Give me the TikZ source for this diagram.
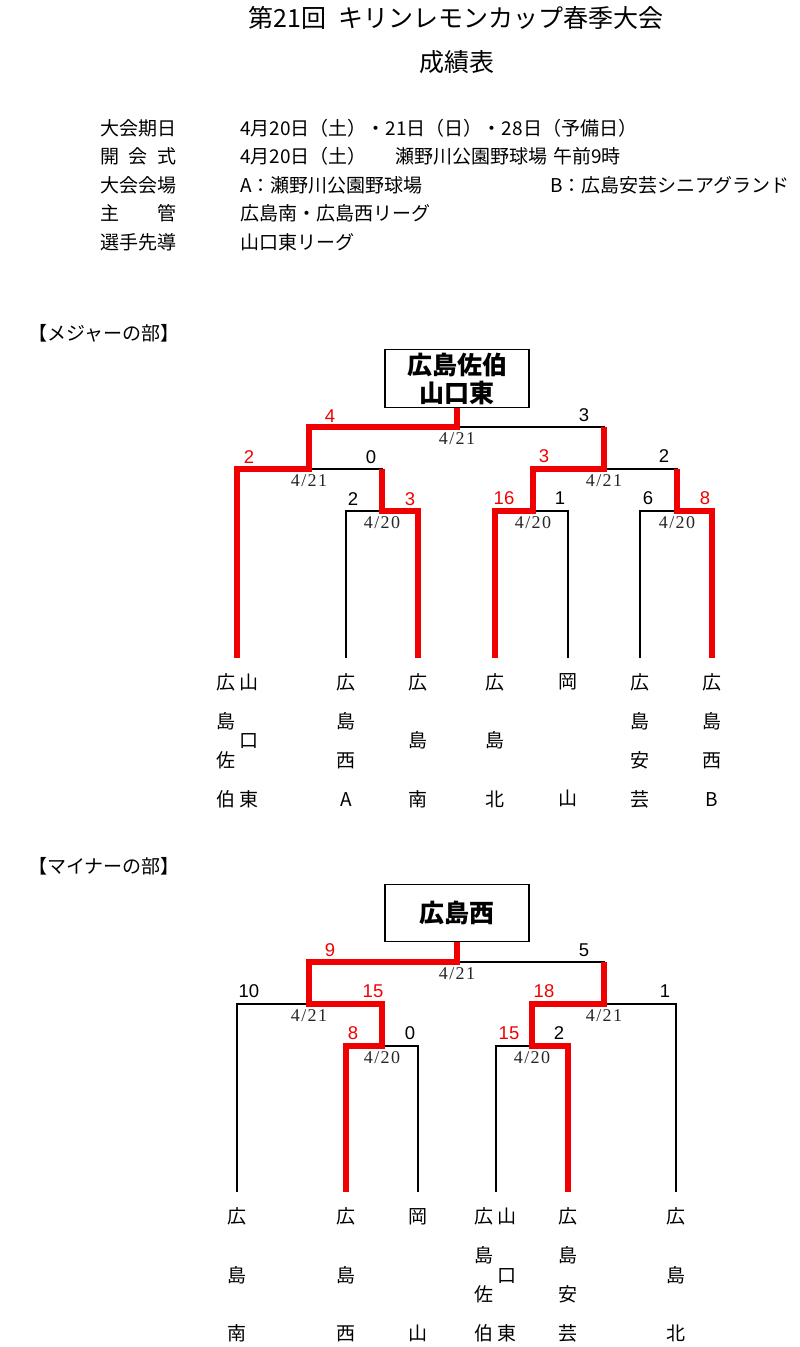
\documentclass[tikz,border=0pt]{standalone}
\usepackage{fontspec}
\setmainfont{Noto Sans CJK JP}
\newfontfamily\numfont{Liberation Sans}
\newfontfamily\datefont[LetterSpace=8]{Liberation Serif}
\usepackage{xcolor}
\usetikzlibrary{positioning}
\definecolor{winred}{RGB}{240,0,0}
\tikzset{
  champbox/.style={rectangle, draw, line width=1.4pt, minimum width=144pt,
                   minimum height=57pt, align=center,
                   font=\bfseries\fontsize{25}{28}\selectfont},
  bout/.style={draw, line width=1.4pt},
  winline/.style={draw=winred, line width=6pt},
  score/.style={font=\numfont\fontsize{18.5}{18.5}\selectfont, inner sep=0pt},
  winscore/.style={score, text=winred},
  datelbl/.style={font=\datefont\fontsize{18}{18}\selectfont, inner sep=0pt,
                  text=black!85},
  team/.style={font=\fontsize{19}{39}\selectfont, align=center, inner sep=0pt},
  team3/.style={font=\fontsize{19}{58.5}\selectfont, align=center, inner sep=0pt},
  team2/.style={font=\fontsize{19}{117}\selectfont, align=center, inner sep=0pt},
  info/.style={anchor=west, inner sep=0pt, font=\fontsize{19}{19}\selectfont},
}
\begin{document}
\begin{tikzpicture}[x=1pt, y=-1pt]
  \useasboundingbox (0,0) rectangle (800,1347);

  \node[font=\fontsize{25}{25}\selectfont] (title) at (456,18) {第21回\hspace{0.5em}キリンレモンカップ春季大会};
  \node[font=\fontsize{25}{25}\selectfont] (subtitle) at (457,62) {成績表};

  \node[info] (k1) at (100,128) {大会期日};
  \node[info] (k2) at (100,156) {開\hspace{0.5em}会\hspace{0.5em}式};
  \node[info] (k3) at (100,185) {大会会場};
  \node[info] (k4) at (100,213) {主\hspace{2em}管};
  \node[info] (k5) at (100,242) {選手先導};
  \node[info] (v1) at (240,128) {4月20日（土）・21日（日）・28日（予備日）};
  \node[info] (v2) at (240,156) {4月20日（土）\hspace{1.5em}瀬野川公園野球場\hspace{0.3em}午前9時};
  \node[info] (v3) at (240,185) {A：瀬野川公園野球場};
  \node[info] (v3b) at (550,185) {B：広島安芸シニアグランド};
  \node[info] (v4) at (240,213) {広島南・広島西リーグ};
  \node[info] (v5) at (240,242) {山口東リーグ};

  % major
  \node[info] (hmaj) at (28,333) {【メジャーの部】};
  \node[champbox] (mbox) at (457,378.5) {広島佐伯\\山口東};

  \coordinate (mj0) at (457,427);
  \coordinate (mj1) at (309,469);
  \coordinate (mj2) at (604,469);
  \coordinate (mj3) at (382,511);
  \coordinate (mj4) at (533,511);
  \coordinate (mj5) at (677,511);
  \coordinate (ml1) at (237,658);
  \coordinate (ml2) at (346,658);
  \coordinate (ml3) at (418,658);
  \coordinate (ml4) at (495,658);
  \coordinate (ml5) at (568,658);
  \coordinate (ml6) at (640,658);
  \coordinate (ml7) at (712,658);

  \draw[bout] (mj1) |- (mj0) -| (mj2);
  \draw[bout] (ml1) |- (mj1) -| (mj3);
  \draw[bout] (mj4) |- (mj2) -| (mj5);
  \draw[bout] (ml2) |- (mj3) -| (ml3);
  \draw[bout] (ml4) |- (mj4) -| (ml5);
  \draw[bout] (ml6) |- (mj5) -| (ml7);

  \draw[winline] (mbox.south) -- (mj0) -| (mj1) -| (ml1);
  \draw[winline] (mj3 |- mj1) -- (mj3) -| (ml3);
  \draw[winline] (ml4) |- (mj4) |- (mj2) -- (mj2 |- mj0);
  \draw[winline] (mj5 |- mj2) -- (mj5) -| (ml7);

  \node[winscore] (ms1) at (330,416) {4};
  \node[score] (ms2) at (584,415) {3};
  \node[winscore] (ms3) at (249,457) {2};
  \node[score] (ms4) at (371,457) {0};
  \node[winscore] (ms5) at (544,456) {3};
  \node[score] (ms6) at (664,456) {2};
  \node[score] (ms7) at (353,499) {2};
  \node[winscore] (ms8) at (410,499) {3};
  \node[winscore] (ms9) at (504,498) {16};
  \node[score] (ms10) at (560,498) {1};
  \node[score] (ms11) at (648,498) {6};
  \node[winscore] (ms12) at (705,498) {8};

  \node[datelbl, below=5pt of mj0] (md0) {4/21};
  \node[datelbl, below=5pt of mj1] (md1) {4/21};
  \node[datelbl, below=5pt of mj2] (md2) {4/21};
  \node[datelbl, below=5pt of mj3] (md3) {4/20};
  \node[datelbl, below=5pt of mj4] (md4) {4/20};
  \node[datelbl, below=5pt of mj5] (md5) {4/20};

  \node[team] (mt1a) at (226,740.5) {広\\島\\佐\\伯};
  \node[team3] (mt1b) at (249,740.5) {山\\口\\東};
  \node[team] (mt2) at (346,740.5) {広\\島\\西\\A};
  \node[team3] (mt3) at (418,740.5) {広\\島\\南};
  \node[team3] (mt4) at (495,740.5) {広\\島\\北};
  \node[team2] (mt5) at (568,740.5) {岡\\山};
  \node[team] (mt6) at (640,740.5) {広\\島\\安\\芸};
  \node[team] (mt7) at (712,740.5) {広\\島\\西\\B};

  % minor
  \node[info] (hmin) at (28,866) {【マイナーの部】};
  \node[champbox] (nbox) at (457,913) {広島西};

  \coordinate (nj0) at (457,962);
  \coordinate (nj1) at (309,1004);
  \coordinate (nj2) at (604,1004);
  \coordinate (nj3) at (382,1046);
  \coordinate (nj4) at (532,1046);
  \coordinate (nl1) at (237,1192);
  \coordinate (nl2) at (346,1192);
  \coordinate (nl3) at (418,1192);
  \coordinate (nl4) at (496,1192);
  \coordinate (nl5) at (568,1192);
  \coordinate (nl6) at (676,1192);

  \draw[bout] (nj1) |- (nj0) -| (nj2);
  \draw[bout] (nl1) |- (nj1) -| (nj3);
  \draw[bout] (nj4) |- (nj2) -| (nl6);
  \draw[bout] (nl2) |- (nj3) -| (nl3);
  \draw[bout] (nl4) |- (nj4) -| (nl5);

  \draw[winline] (nbox.south) -- (nj0) -| (nj1) -| (nj3) -| (nl2);
  \draw[winline] (nl5) |- (nj4) |- (nj2) -- (nj2 |- nj0);

  \node[winscore] (ns1) at (330,950) {9};
  \node[score] (ns2) at (584,950) {5};
  \node[score] (ns3) at (249,991) {10};
  \node[winscore] (ns4) at (373,991) {15};
  \node[winscore] (ns5) at (544,991) {18};
  \node[score] (ns6) at (665,991) {1};
  \node[winscore] (ns7) at (353,1033) {8};
  \node[score] (ns8) at (410,1033) {0};
  \node[winscore] (ns9) at (509,1033) {15};
  \node[score] (ns10) at (559,1033) {2};

  \node[datelbl, below=5pt of nj0] (nd0) {4/21};
  \node[datelbl, below=5pt of nj1] (nd1) {4/21};
  \node[datelbl, below=5pt of nj2] (nd2) {4/21};
  \node[datelbl, below=5pt of nj3] (nd3) {4/20};
  \node[datelbl, below=5pt of nj4] (nd4) {4/20};

  \node[team3] (nt1) at (237,1275) {広\\島\\南};
  \node[team3] (nt2) at (346,1275) {広\\島\\西};
  \node[team2] (nt3) at (418,1275) {岡\\山};
  \node[team] (nt4a) at (484,1275) {広\\島\\佐\\伯};
  \node[team3] (nt4b) at (507,1275) {山\\口\\東};
  \node[team] (nt5) at (568,1275) {広\\島\\安\\芸};
  \node[team3] (nt6) at (676,1275) {広\\島\\北};
\end{tikzpicture}
\end{document}
